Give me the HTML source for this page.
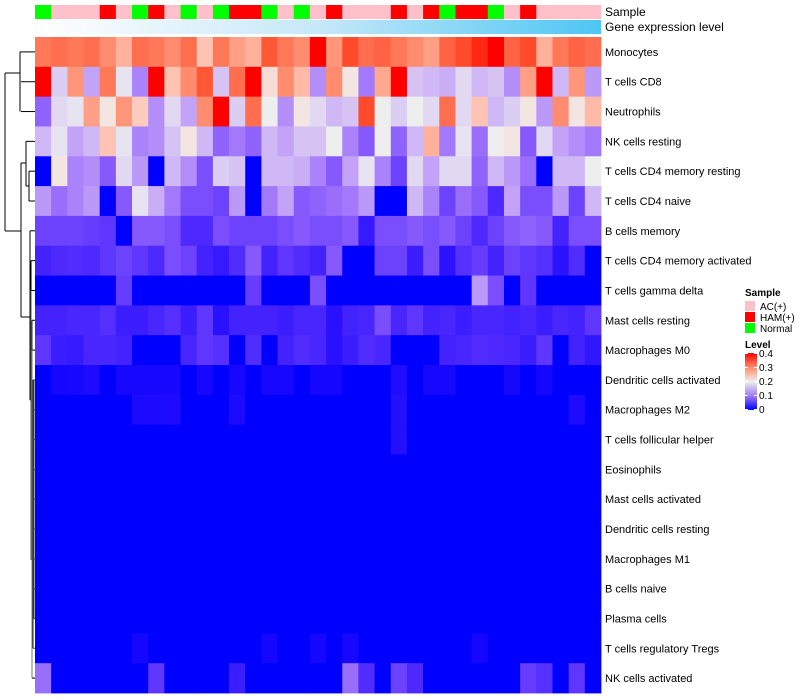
<!DOCTYPE html>
<html><head><meta charset="utf-8">
<style>
html,body{margin:0;padding:0;background:#fff;}
svg{display:block;font-family:"Liberation Sans",Arial,sans-serif;}
</style></head>
<body>
<svg id="s" width="800" height="700" xmlns="http://www.w3.org/2000/svg">
<defs>
<linearGradient id="ge" x1="0" x2="1" y1="0" y2="0">
<stop offset="0" stop-color="#ffffff"/><stop offset="0.5" stop-color="#c6e8f8"/><stop offset="1" stop-color="#4cc6f4"/>
</linearGradient>
<linearGradient id="lv" x1="0" x2="0" y1="1" y2="0">
<stop offset="0" stop-color="#0000ff"/><stop offset="0.25" stop-color="#a27cf0"/><stop offset="0.5" stop-color="#eeeeee"/><stop offset="0.75" stop-color="#ff8a6a"/><stop offset="1" stop-color="#ff0000"/>
</linearGradient>
</defs>
<g id="cells"></g>
<g id="dend" stroke="#000" stroke-width="1" fill="none"></g>
<g id="labs" font-size="11" fill="#000" style="white-space:pre"></g>
<text x="605" y="16" font-size="12">Sample</text>
<text x="605" y="31" font-size="12">Gene expression level</text>
<text x="745" y="296" font-size="10" font-weight="bold">Sample</text>
<rect x="745" y="301" width="10" height="10" fill="#ffc0cb"/><text x="760" y="310" font-size="10">AC(+)</text>
<rect x="745" y="312" width="10" height="10" fill="#ff0000"/><text x="760" y="321" font-size="10">HAM(+)</text>
<rect x="745" y="323" width="10" height="10" fill="#00ff00"/><text x="760" y="332" font-size="10">Normal</text>
<text x="745" y="348" font-size="10" font-weight="bold">Level</text>
<rect x="745" y="353" width="12" height="57" fill="url(#lv)"/>
<g stroke="#fff" stroke-width="1"><line x1="745" y1="353.5" x2="748" y2="353.5"/><line x1="754" y1="353.5" x2="757" y2="353.5"/><line x1="745" y1="367.5" x2="748" y2="367.5"/><line x1="754" y1="367.5" x2="757" y2="367.5"/><line x1="745" y1="381.5" x2="748" y2="381.5"/><line x1="754" y1="381.5" x2="757" y2="381.5"/><line x1="745" y1="395.5" x2="748" y2="395.5"/><line x1="754" y1="395.5" x2="757" y2="395.5"/><line x1="745" y1="409.5" x2="748" y2="409.5"/><line x1="754" y1="409.5" x2="757" y2="409.5"/></g>
<g font-size="10"><text x="759" y="357">0.4</text><text x="759" y="371">0.3</text><text x="759" y="385">0.2</text><text x="759" y="399">0.1</text><text x="759" y="413">0</text></g>
</svg>
<script>
var names=["Monocytes","T cells CD8","Neutrophils","NK cells resting","T cells CD4 memory resting","T cells CD4 naive","B cells memory","T cells CD4 memory activated","T cells gamma delta","Mast cells resting","Macrophages M0","Dendritic cells activated","Macrophages M2","T cells follicular helper","Eosinophils","Mast cells activated","Dendritic cells resting","Macrophages M1","B cells naive","Plasma cells","T cells regulatory  Tregs","NK cells activated"];
var D=[
[33,34,33,34,31,27,34,33,31,34,25,33,29,27,36,33,31,40,30,37,34,35,33,31,29,35,37,39,40,35,37,27,33,35,34],
[40,17,30,13,33,19,10,40,25,31,36,16,34,40,22,31,26,11,31,21,9,28,40,16,15,14,18,15,16,11,29,40,15,30,12],
[7,18,19,29,21,30,24,11,18,13,31,40,17,34,20,11,21,18,15,16,37,20,17,20,18,34,18,25,15,17,21,12,31,21,26],
[15,19,13,15,25,19,10,11,16,21,15,7,9,7,15,13,16,16,20,10,6,20,7,15,27,9,19,8,20,21,6,18,13,11,9],
[0,21,10,11,6,18,12,0,15,11,5,17,16,0,15,15,14,10,6,13,19,10,4,18,13,18,18,7,15,12,8,0,15,15,20],
[12,8,10,12,0,6,19,14,9,5,5,4,12,0,9,13,6,7,8,9,12,0,0,15,10,4,8,6,2,13,5,5,12,4,15],
[4,4,4,3.5,3,0,6,6,5,2,2,5,4,4,4,5,6,5,5,6,1,5,5,6,5,6,4,2,4,6,7,6,1.5,5,5],
[1.5,2,2.2,2,3,4,3,2,5,4,1.5,1,2.2,6,1.5,3,2.2,1.5,6,0,0,4,4,1.2,5,0.7,2.5,3.5,1.5,4,3,2.5,0.7,2.2,0],
[0,0,0,0,0,3.5,0,0,0,0,0,0,0,3.5,0,0,0,5,0,0,0,0,0,0,0,0,0,12,5,0,3,0,0,0,0],
[1.5,1.5,1.8,1.8,2.4,1.2,1.2,1.8,2.4,1.2,3,0.6,1.5,1.5,1.5,1.2,1.8,1.8,0.6,1.5,1.8,5,1.8,3,1.5,1.8,1.2,1.8,1.8,1.5,1.8,1.2,1.8,1.5,3],
[3,1.2,1,1.8,1.8,1.5,0,0,0,1.8,3,2.5,0,2.2,0,1.5,2.2,1.8,0.6,1.2,2.2,1.8,0,0,0,1.5,1.8,2.2,2,1.8,1.2,3,0,1.5,0.8],
[0,0.5,0.6,0.9,0,0.6,0.6,0.6,0.6,0,0.6,0,0.6,0,0.6,0.6,0,0.5,0.5,0,0,0,1,0,0.6,0.6,0,0,0,0.6,0,0.5,0,0,0],
[0,0,0,0,0,0,0.7,0.7,0.8,0,0,0,0.7,0,0,0,0,0,0,0,0,0,1.1,0,0,0,0,0,0,0,0,0,0,0.8,0],
[0,0,0,0,0,0,0,0,0,0,0,0,0,0,0,0,0,0,0,0,0,0,1.1,0,0,0,0,0,0,0,0,0,0,0,0],
[],[],[],[],[],[],
[0,0,0,0,0,0,0.5,0,0,0,0,0,0,0,0.5,0,0,0.5,0,0.6,0,0,0,0,0,0,0,0.5,0,0,0,0,0,0,0],
[8,0,0,0,0,0,0,3,0,0,0,0,1.2,0,0,0,0,0,0,8,2.2,0,4,2,0,0,0,0,0,0,3.5,2.5,0,3,0]
];
var scale={11:0.4,12:0.45,13:0.45,20:0.4};
function lin(c){c/=255;return c<=0.04045?c/12.92:Math.pow((c+0.055)/1.055,2.4);}
function unl(c){c=c<=0.0031308?12.92*c:1.055*Math.pow(c,1/2.4)-0.055;return Math.max(0,Math.min(255,Math.round(c*255)));}
function f(t){return t>0.008856?Math.cbrt(t):7.787*t+16/116;}
function fi(t){return t>0.206893?t*t*t:(t-16/116)/7.787;}
function toLab(r,g,b){r=lin(r);g=lin(g);b=lin(b);var X=(0.4124*r+0.3576*g+0.1805*b)/0.95047,Y=0.2126*r+0.7152*g+0.0722*b,Z=(0.0193*r+0.1192*g+0.9505*b)/1.08883;var fx=f(X),fy=f(Y),fz=f(Z);return[116*fy-16,500*(fx-fy),200*(fy-fz)];}
function fromLab(L,a,b){var fy=(L+16)/116,fx=fy+a/500,fz=fy-b/200;var X=fi(fx)*0.95047,Y=fi(fy),Z=fi(fz)*1.08883;var r=3.2406*X-1.5372*Y-0.4986*Z,g=-0.9689*X+1.8758*Y+0.0415*Z,bb=0.0557*X-0.2040*Y+1.0570*Z;return"rgb("+unl(r)+","+unl(g)+","+unl(bb)+")";}
var B=toLab(0,0,255),W=toLab(238,238,238),R=toLab(255,0,0);
function col(v){v=Math.max(0,Math.min(40,v))/20;var a,b,t;if(v<=1){a=B;b=W;t=v;}else{a=W;b=R;t=v-1;}return fromLab(a[0]+(b[0]-a[0])*t,a[1]+(b[1]-a[1])*t,a[2]+(b[2]-a[2])*t);}
var NS="http://www.w3.org/2000/svg";
function el(p,tag,at){var e=document.createElementNS(NS,tag);for(var k in at)e.setAttribute(k,at[k]);p.appendChild(e);return e;}
var g=document.getElementById("cells"),L=document.getElementById("labs"),dg=document.getElementById("dend");
var x0=35,x1=601,nc=35,cw=(x1-x0)/nc,y0=37,rh=(693-37)/22;
var samp="GPPPRPGRPGPGRRGPGPRPPPRPRGRRGPRPPPP";
var sc={P:"#ffc0cb",R:"#ff0000",G:"#00ff00"};
for(var j=0;j<nc;j++){
  var x=x0+j*cw;
  el(g,"rect",{x:x.toFixed(2),y:5,width:(cw+0.4).toFixed(2),height:14,fill:sc[samp[j]]});
}
el(g,"rect",{x:x0,y:20,width:x1-x0,height:14,fill:"url(#ge)"});
for(var i=0;i<22;i++){
  var row=D[i]||[];var s=scale[i]||1;
  for(var j=0;j<nc;j++){
    var v=row.length?row[j]*s:0;
    el(g,"rect",{x:(x0+j*cw).toFixed(2),y:(y0+i*rh).toFixed(2),width:(cw+0.4).toFixed(2),height:(rh+0.4).toFixed(2),fill:col(v)});
  }
  var t=el(L,"text",{x:605,y:(y0+(i+0.5)*rh+4).toFixed(1)});t.textContent=names[i];
}
function yc(i){return y0+(i+0.5)*rh;}
function ln(a,b,c,d,s){el(dg,"line",{x1:a,y1:b,x2:c,y2:d,stroke:s||"#000"});}
ln(20,yc(0),35,yc(0));ln(21,yc(1),35,yc(1));ln(21,yc(2),35,yc(2));
ln(20,yc(0),20,yc(2));ln(5,73,20,73);
ln(5,73,5,231);ln(5,231,21,231);
ln(21,163,21,317);ln(21,163,26,163);
ln(26,yc(3),26,186);ln(26,yc(3),35,yc(3));
ln(26,186,29,186);ln(29,yc(4),29,yc(5));ln(29,yc(4),35,yc(4));ln(29,yc(5),35,yc(5));
ln(21,317,30,317);
ln(30,yc(6),30,400);ln(30,yc(6),35,yc(6));
ln(30,400,31,400);
ln(31,yc(7),31,yc(8));ln(31,yc(7),35,yc(7));ln(31,yc(8),35,yc(8));
ln(31,yc(8),31,560,"#555");
ln(32,yc(9),32,yc(10),"#333");ln(32,yc(9),35,yc(9));ln(32,yc(10),35,yc(10));
ln(32,yc(10),32,yc(21),"#777");ln(32,yc(21),35,yc(21));
ln(33,yc(11),33,yc(20),"#222");
ln(34,yc(11),34,yc(19),"#444");
for(var i=11;i<21;i++)ln(33,yc(i),35,yc(i),"#444");
</script>
</body></html>
